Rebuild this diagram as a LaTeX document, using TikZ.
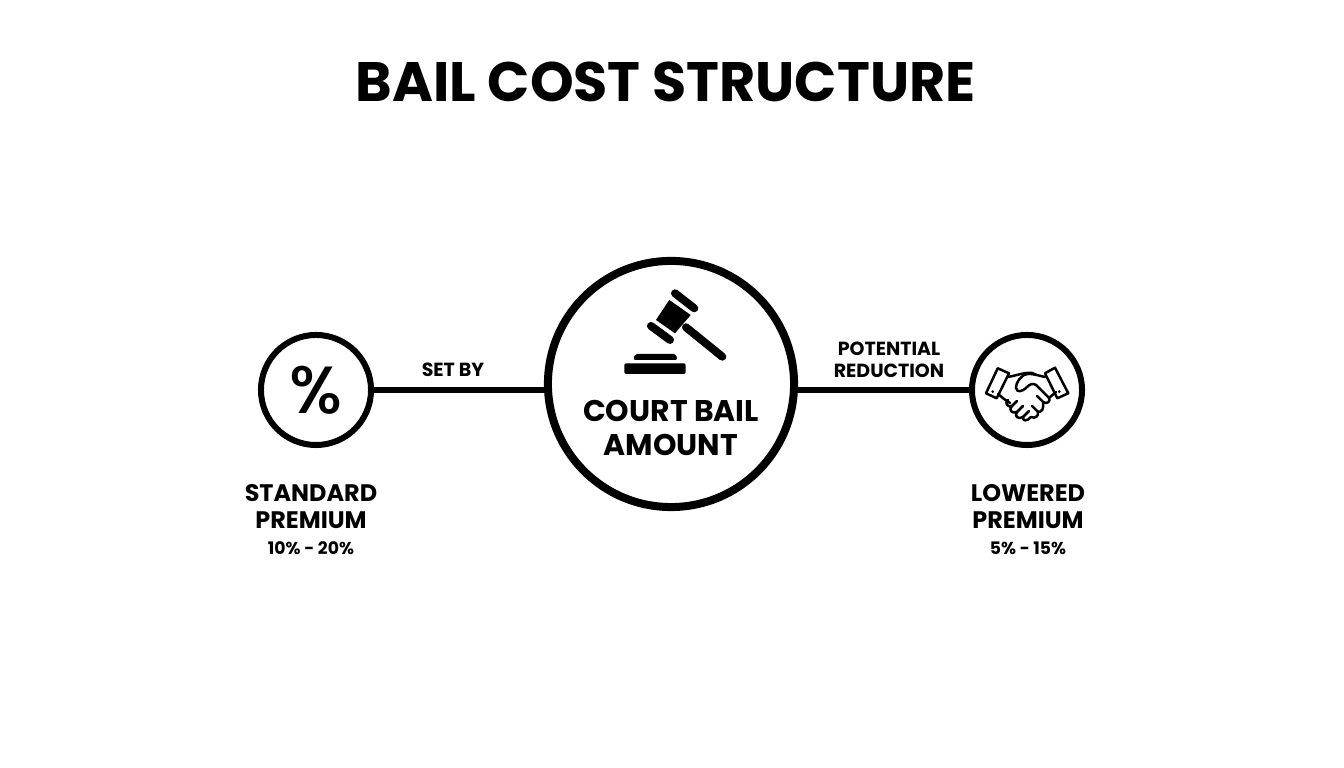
\documentclass[tikz,border=0pt]{standalone}
\usepackage{fontspec}
\setmainfont{Poppins}[BoldFont=* Bold]
\newfontfamily\percentfont{Poppins Medium}
\newcommand{\cuff}[4] % four corners of a sleeve
{
	\draw[iconline] #1 -- #2 -- #3 -- #4 -- cycle;
}
\tikzset{
	bigring/.style={draw, circle, line width=0.08cm, minimum size=2.46cm, fill=white, inner sep=0pt},
	smallring/.style={draw, circle, line width=0.06cm, minimum size=1.1cm, fill=white, inner sep=0pt},
	link/.style={line width=0.06cm},
	iconline/.style={line width=0.025cm, line join=round, line cap=round},
	caption/.style={align=center, font=\bfseries\fontsize{6.8}{7.7}\selectfont},
	linktext/.style={align=center, font=\fontsize{5.4}{6.2}\selectfont\bfseries},
	rangetext/.style={font=\fontsize{4.9}{6}\selectfont\bfseries}
}
\begin{document}
\begin{tikzpicture}[x=0.01cm, y=-0.01cm]
	\useasboundingbox (0,0) rectangle (1344,768);
	% title
	\node[font=\bfseries\fontsize{15.8}{18}\selectfont] (title) at (665.5,82) {BAIL COST STRUCTURE};
	% rings
	\node[bigring] (court) at (671,384) {};
	\node[smallring, font=\percentfont\fontsize{19}{22}\selectfont] (standard) at (316,390) {\%};
	\node[smallring] (lowered) at (1027,390) {};
	% connectors
	\draw[link] (standard.east) -- (standard.east -| court.west);
	\draw[link] (lowered.west -| court.east) -- (lowered.west);
	% connector labels
	\node[linktext] (setby) at (453,370) {SET BY};
	\node[linktext] (reduction) at (889,360) {POTENTIAL\\REDUCTION};
	% gavel
	\fill (669.3,300) -- (690.7,315) -- (675,333.3) -- (656,320) -- cycle;
	\draw[line width=0.08cm, line cap=round] (675,293.3) -- (694.3,308.3);
	\draw[line width=0.08cm, line cap=round] (651,326) -- (670,340);
	\draw[line width=0.08cm, line cap=round] (686,327.3) -- (722.3,356.7);
	\fill[rounded corners=0.02cm] (633.3,360) -- (635,354) -- (676,354) -- (677.3,360) -- cycle;
	\fill[rounded corners=0.02cm] (624.3,374) -- (624.3,363.3) -- (685.7,363.3) -- (685.7,374) -- cycle;
	% court text
	\node[caption, font=\bfseries\fontsize{8.5}{9.4}\selectfont] (courttext) at (671,428) {COURT BAIL\\AMOUNT};
	% handshake
	\cuff{(997.7,368.3)}{(1009,373.3)}{(996.7,398.3)}{(986,393.3)}
	\cuff{(1045,373.3)}{(1055,367.7)}{(1068.3,393.3)}{(1057.3,398.3)}
	\fill (992.7,391.7) circle (1.5);
	\fill (1059.3,391.7) circle (1.5);
	% upper hand
	\draw[iconline] (1007,377) .. controls (1016,376) and (1024,372) .. (1032,373) -- (1036,375);
	\draw[iconline] (1045,377) .. controls (1038,376) and (1032,372) .. (1024,375)
		.. controls (1020,378) and (1016,382) .. (1016,388)
		.. controls (1017,393) and (1022,392) .. (1027,387)
		.. controls (1030,384) and (1033,383) .. (1036,385)
		-- (1049,398) .. controls (1051,401) and (1047,405) .. (1043,402);
	% lower hand and fingers
	\draw[iconline] (998,394) -- (1004,399) -- (1010,403);
	\draw[iconline] (1008,400) .. controls (1004,403) and (1008,408) .. (1012,406)
		.. controls (1008,410) and (1012,414) .. (1017,412)
		.. controls (1014,416) and (1018,420) .. (1023,417)
		.. controls (1022,421) and (1027,422) .. (1031,417);
	\draw[iconline] (1012,406) -- (1017,401);
	\draw[iconline] (1017,412) -- (1023,406);
	\draw[iconline] (1023,417) -- (1029,411);
	\draw[iconline] (1031,417) .. controls (1035,419) and (1039,416) .. (1038,412) -- (1032,406);
	\draw[iconline] (1038,412) .. controls (1042,412) and (1044,409) .. (1043,402) -- (1037,396);
	\draw[iconline] (1049,398) -- (1056,392);
	% captions
	\node[caption] (standardtext) at (311,507) {STANDARD\\PREMIUM};
	\node[rangetext] (standardrange) at (311,548) {10\% - 20\%};
	\node[caption] (loweredtext) at (1028,507) {LOWERED\\PREMIUM};
	\node[rangetext] (loweredrange) at (1028,548) {5\% - 15\%};
\end{tikzpicture}
\end{document}
